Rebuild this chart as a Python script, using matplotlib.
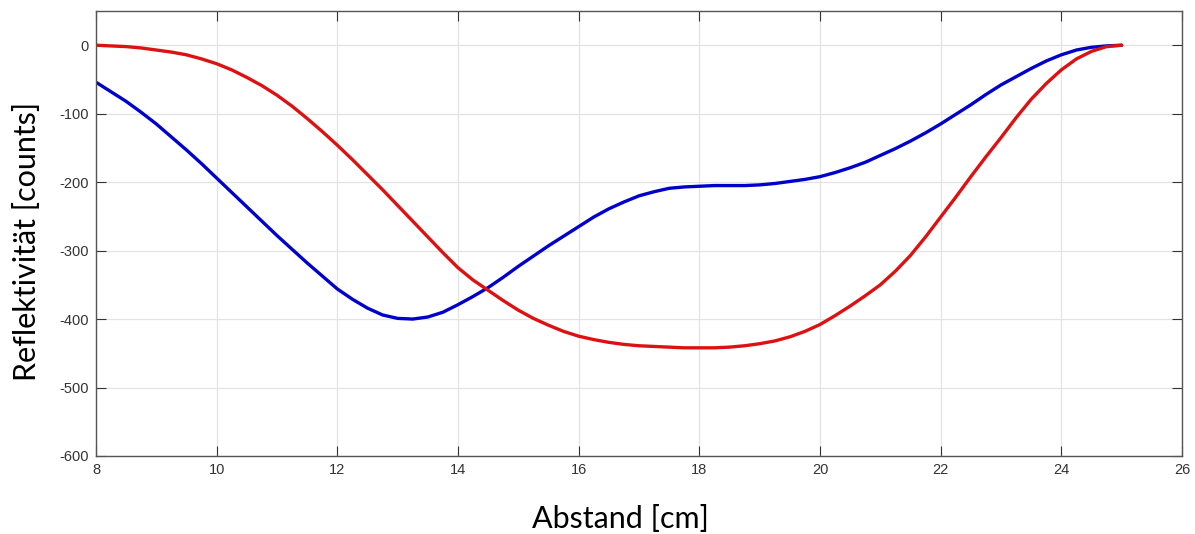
import numpy as np
import matplotlib.pyplot as plt

plt.rcParams["font.family"] = ["Liberation Sans", "DejaVu Sans"]
plt.rcParams["axes.unicode_minus"] = False

# Abstand in cm, shared by both traces (0.25 cm steps)
abstand = [8.00, 8.25, 8.50, 8.75, 9.00, 9.25, 9.50, 9.75,
           10.00, 10.25, 10.50, 10.75, 11.00, 11.25, 11.50, 11.75,
           12.00, 12.25, 12.50, 12.75, 13.00, 13.25, 13.50, 13.75,
           14.00, 14.25, 14.50, 14.75, 15.00, 15.25, 15.50, 15.75,
           16.00, 16.25, 16.50, 16.75, 17.00, 17.25, 17.50, 17.75,
           18.00, 18.25, 18.50, 18.75, 19.00, 19.25, 19.50, 19.75,
           20.00, 20.25, 20.50, 20.75, 21.00, 21.25, 21.50, 21.75,
           22.00, 22.25, 22.50, 22.75, 23.00, 23.25, 23.50, 23.75,
           24.00, 24.25, 24.50, 24.75, 25.00]

refl_blau = [-54, -68, -82, -98, -115, -134, -153, -173,
             -194, -215, -236, -257, -278, -298, -318, -337,
             -356, -371, -384, -394, -399, -400, -397, -390,
             -379, -367, -354, -339, -323, -308, -293, -279,
             -265, -251, -239, -229, -220, -214, -209, -207,
             -206, -205, -205, -205, -204, -202, -199, -196,
             -192, -186, -179, -171, -161, -151, -140, -128,
             -115, -101, -87, -72, -58, -46, -34, -23,
             -14, -7, -3, -1, 0]

refl_rot = [0, -1, -2, -4, -7, -10, -14, -20,
            -27, -36, -47, -59, -73, -89, -107, -126,
            -146, -167, -189, -211, -234, -257, -280, -303,
            -325, -343, -358, -373, -387, -399, -409, -418,
            -425, -430, -434, -437, -439, -440, -441, -442,
            -442, -442, -441, -439, -436, -432, -426, -418,
            -408, -395, -381, -366, -350, -330, -307, -280,
            -251, -222, -192, -163, -135, -106, -79, -56,
            -36, -20, -9, -2, 0]

xticks = np.arange(8, 27, 2)
yticks = np.arange(-600, 1, 100)

fig = plt.figure(figsize=(11.95, 5.34), dpi=100)
ax = fig.add_axes([0.0803, 0.1461, 0.9088, 0.8333])

ax.plot(abstand, refl_blau, color="#0000cc", linewidth=2.4, solid_capstyle="round")
ax.plot(abstand, refl_rot, color="#dd1111", linewidth=2.4, solid_capstyle="round")

ax.set_xlim(8, 26)
ax.set_ylim(-600, 50)
ax.set_xticks(xticks)
ax.set_yticks(yticks)

ax.grid(True, color="#e3e3e3", linewidth=0.9)
ax.set_axisbelow(True)
for s in ax.spines.values():
    s.set_color("#555555")
    s.set_linewidth(1.0)
ax.tick_params(direction="in", length=7, width=0.8, color="#333333",
               top=True, right=True, labelsize=10.5, labelcolor="#333333", pad=5)

ax.set_xlabel("Abstand [cm]", fontsize=22, family="Lato")
ax.set_ylabel("Reflektivität [counts]", fontsize=22, family="Lato")
ax.xaxis.set_label_coords(0.4825, -0.11)
ax.yaxis.set_label_coords(-0.051, 0.483)

fig.savefig("out.png", dpi=100)
